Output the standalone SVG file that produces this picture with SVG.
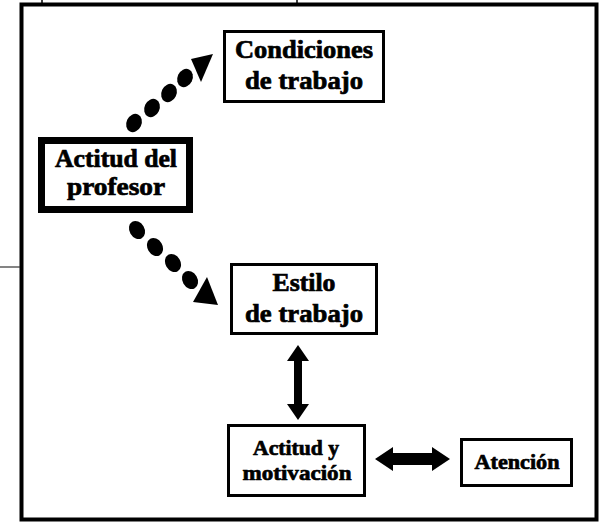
<svg xmlns="http://www.w3.org/2000/svg" width="600" height="522" viewBox="0 0 600 522">
<style>
.box{fill:#fff;stroke:#000;stroke-width:3}
.thick{fill:#fff;stroke:#000;stroke-width:7}
.t{font-family:"Liberation Serif","Times New Roman",serif;font-weight:bold;font-size:25px;fill:#000;stroke:#000;stroke-width:0.7;text-anchor:middle}
.s{font-size:22px}
.dot{fill:#000}
.frame{fill:none;stroke:#000;stroke-width:4}
.thin{stroke:#000;stroke-width:1.5}
</style>
<rect width="600" height="522" fill="#fff"/>
<rect class="frame" x="21.5" y="4.5" width="575" height="515"/>
<line class="thin" x1="42" y1="0" x2="42" y2="4"/>
<line class="thin" x1="297" y1="0" x2="297" y2="4"/>
<line x1="0" y1="267" x2="20" y2="267" stroke="#333" stroke-width="1.2"/>
<g id="connectors">
  <g id="c-up">
    <ellipse class="dot" cx="134" cy="123" rx="7.5" ry="9.5" transform="rotate(25 134 123)"/>
    <ellipse class="dot" cx="152" cy="108" rx="7.5" ry="9.5" transform="rotate(25 152 108)"/>
    <ellipse class="dot" cx="169" cy="93" rx="7.5" ry="9.5" transform="rotate(25 169 93)"/>
    <ellipse class="dot" cx="185" cy="78" rx="7.5" ry="9.5" transform="rotate(25 185 78)"/>
    <polygon points="191,59 213,54 201,82" fill="#000"/>
  </g>
  <g id="c-down">
    <ellipse class="dot" cx="137" cy="230" rx="7.5" ry="9.5" transform="rotate(-30 137 230)"/>
    <ellipse class="dot" cx="155" cy="247" rx="7.5" ry="9.5" transform="rotate(-30 155 247)"/>
    <ellipse class="dot" cx="173" cy="263" rx="7.5" ry="9.5" transform="rotate(-30 173 263)"/>
    <ellipse class="dot" cx="190" cy="280" rx="7.5" ry="9.5" transform="rotate(-30 190 280)"/>
    <polygon points="207,277 218,305 193,302" fill="#000"/>
  </g>
  <polygon id="c-vert" points="298,345 309,361 302,361 302,404 309,404 298,420 287,404 294,404 294,361 287,361" fill="#000"/>
  <polygon id="c-horiz" points="375,459 393,447 393,453 432,453 432,447 450,459 432,471 432,465 393,465 393,471" fill="#000"/>
</g>
<g id="condiciones">
  <rect class="box" x="224.5" y="31.5" width="159" height="70"/>
  <text class="t" x="304" y="58" textLength="138" lengthAdjust="spacingAndGlyphs">Condiciones</text>
  <text class="t" x="304" y="89" textLength="118" lengthAdjust="spacingAndGlyphs">de trabajo</text>
</g>
<g id="actitud-profesor">
  <rect class="thick" x="41.5" y="140.5" width="148" height="69"/>
  <text class="t" x="116" y="167" textLength="122" lengthAdjust="spacingAndGlyphs">Actitud del</text>
  <text class="t" x="116" y="195" textLength="98" lengthAdjust="spacingAndGlyphs">profesor</text>
</g>
<g id="estilo">
  <rect class="box" x="231.5" y="264.5" width="145" height="69"/>
  <text class="t" x="304" y="291" textLength="63" lengthAdjust="spacingAndGlyphs">Estilo</text>
  <text class="t" x="304" y="322" textLength="118" lengthAdjust="spacingAndGlyphs">de trabajo</text>
</g>
<g id="actitud-motivacion">
  <rect class="box" x="228.5" y="425.5" width="136" height="70"/>
  <text class="t s" x="296" y="455" textLength="86" lengthAdjust="spacingAndGlyphs">Actitud y</text>
  <text class="t s" x="297" y="480" textLength="109" lengthAdjust="spacingAndGlyphs">motivación</text>
</g>
<g id="atencion">
  <rect class="box" x="461.5" y="439.5" width="110" height="46"/>
  <text class="t s" x="517" y="469" textLength="85" lengthAdjust="spacingAndGlyphs">Atención</text>
</g>
</svg>
